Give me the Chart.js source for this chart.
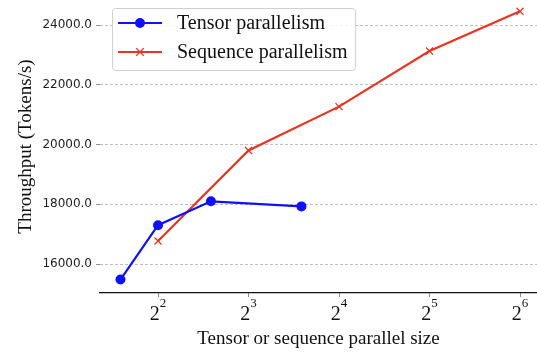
<!DOCTYPE html>
<html>
<head>
<meta charset="utf-8">
<script src="https://cdn.jsdelivr.net/npm/chart.js"></script>
<style>
  html, body { margin: 0; padding: 0; background: #fff; overflow: hidden; }
  canvas { display: block; }
</style>
</head>
<body>
<canvas id="chart" width="537" height="352"></canvas>
<script>
// Data
const X_TENSOR = [3, 4, 6, 12];
const TENSOR = [15480, 17300, 18100, 17930];
const X_SEQ = [4, 8, 16, 32, 64];
const SEQ = [16770, 19800, 21270, 23130, 24460];
const X_TICKS = [4, 8, 16, 32, 64];
const Y_TICKS = [16000, 18000, 20000, 22000, 24000];
const LABELS = ['Tensor parallelism', 'Sequence parallelism'];

const BLUE = '#1010ff';
const RED = '#ea3323';
const SERIF = '"Liberation Serif", "Times New Roman", serif';

// no automatic padding around the axes
function noPad(scale) {
    scale.paddingTop = 0;
    scale.paddingBottom = 0;
    scale.paddingLeft = 0;
    scale.paddingRight = 0;
}

// x tick labels as 2 with a raised exponent
const powerLabels = {
    id: 'powerLabels',
    afterDraw(chart) {
        const ctx = chart.ctx;
        const xs = chart.scales.x;
        ctx.save();
        ctx.fillStyle = '#111';
        ctx.textBaseline = 'alphabetic';
        X_TICKS.forEach(v => {
            const px = xs.getPixelForValue(v);
            const exp = String(Math.round(Math.log2(v)));
            ctx.font = '20px ' + SERIF;
            const wb = ctx.measureText('2').width;
            ctx.font = '13px ' + SERIF;
            const we = ctx.measureText(exp).width;
            const left = px - (wb + we) / 2;
            ctx.font = '20px ' + SERIF;
            ctx.textAlign = 'left';
            ctx.fillText('2', left, 320);
            ctx.font = '13px ' + SERIF;
            ctx.fillText(exp, left + wb, 307);
        });
        ctx.restore();
    }
};

// legend box in the upper left of the plot
const boxLegend = {
    id: 'boxLegend',
    afterDraw(chart) {
        const ctx = chart.ctx;
        ctx.save();
        ctx.beginPath();
        ctx.roundRect(112.5, 8.5, 243, 62, 3);
        ctx.fillStyle = 'rgba(255,255,255,0.85)';
        ctx.fill();
        ctx.strokeStyle = '#d0d0d0';
        ctx.lineWidth = 1;
        ctx.stroke();
        const rows = [23, 52];
        chart.data.datasets.forEach((ds, i) => {
            const y = rows[i];
            ctx.strokeStyle = ds.borderColor;
            ctx.lineWidth = ds.borderWidth;
            ctx.beginPath();
            ctx.moveTo(118, y);
            ctx.lineTo(162, y);
            ctx.stroke();
            if (ds.pointStyle === 'circle') {
                ctx.fillStyle = ds.borderColor;
                ctx.beginPath();
                ctx.arc(140, y, ds.pointRadius, 0, Math.PI * 2);
                ctx.fill();
            } else {
                const r = ds.pointRadius * 0.75;
                ctx.lineWidth = ds.pointBorderWidth;
                ctx.beginPath();
                ctx.moveTo(140 - r, y - r); ctx.lineTo(140 + r, y + r);
                ctx.moveTo(140 - r, y + r); ctx.lineTo(140 + r, y - r);
                ctx.stroke();
            }
            ctx.fillStyle = '#111';
            ctx.font = '20px ' + SERIF;
            ctx.textBaseline = 'middle';
            ctx.textAlign = 'left';
            ctx.fillText(LABELS[i], 177, y + 1);
        });
        ctx.restore();
    }
};

new Chart(document.getElementById('chart'), {
    type: 'scatter',
    data: {
        datasets: [{
            label: LABELS[0],
            data: X_TENSOR.map((x, i) => ({ x: x, y: TENSOR[i] })),
            showLine: true,
            borderColor: BLUE,
            backgroundColor: BLUE,
            borderWidth: 2.2,
            pointStyle: 'circle',
            pointRadius: 5,
            pointBorderWidth: 0,
            pointBackgroundColor: BLUE
        }, {
            label: LABELS[1],
            data: X_SEQ.map((x, i) => ({ x: x, y: SEQ[i] })),
            showLine: true,
            borderColor: RED,
            backgroundColor: RED,
            borderWidth: 2.2,
            pointStyle: 'crossRot',
            pointRadius: 5,
            pointBorderWidth: 1.3,
            pointBorderColor: RED
        }]
    },
    options: {
        responsive: false,
        animation: false,
        devicePixelRatio: 1,
        layout: { padding: 0, autoPadding: false },
        plugins: {
            legend: { display: false },
            tooltip: { enabled: false }
        },
        scales: {
            x: {
                type: 'logarithmic',
                min: 2.565,
                max: 72.9,
                afterBuildTicks: scale => { scale.ticks = X_TICKS.map(v => ({ value: v })); },
                afterFit: scale => { scale.height = 59; noPad(scale); },
                ticks: { display: false },
                grid: { drawOnChartArea: false, tickLength: 4, tickColor: '#888', tickWidth: 1 },
                border: { display: true, color: '#111', width: 1.3 },
                title: {
                    display: true,
                    text: 'Tensor or sequence parallel size',
                    color: '#111',
                    font: { family: SERIF, size: 19 },
                    padding: { top: 0, bottom: 2 }
                }
            },
            y: {
                min: 15030,
                max: 24840,
                afterBuildTicks: scale => { scale.ticks = Y_TICKS.map(v => ({ value: v })); },
                afterFit: scale => { scale.width = 100; noPad(scale); },
                ticks: {
                    color: '#222',
                    padding: 4,
                    font: { family: '"DejaVu Sans", sans-serif', size: 12 },
                    callback: v => Number(v).toFixed(1)
                },
                grid: {
                    color: '#b8b8b8',
                    lineWidth: 0.9,
                    tickLength: 4,
                    tickColor: '#888',
                    tickBorderDash: []
                },
                border: { display: false, dash: [3, 2] },
                title: {
                    display: true,
                    text: 'Throughput (Tokens/s)',
                    color: '#111',
                    font: { family: SERIF, size: 19 },
                    padding: { top: 15, bottom: 0 }
                }
            }
        }
    },
    plugins: [powerLabels, boxLegend]
});
</script>
</body>
</html>
